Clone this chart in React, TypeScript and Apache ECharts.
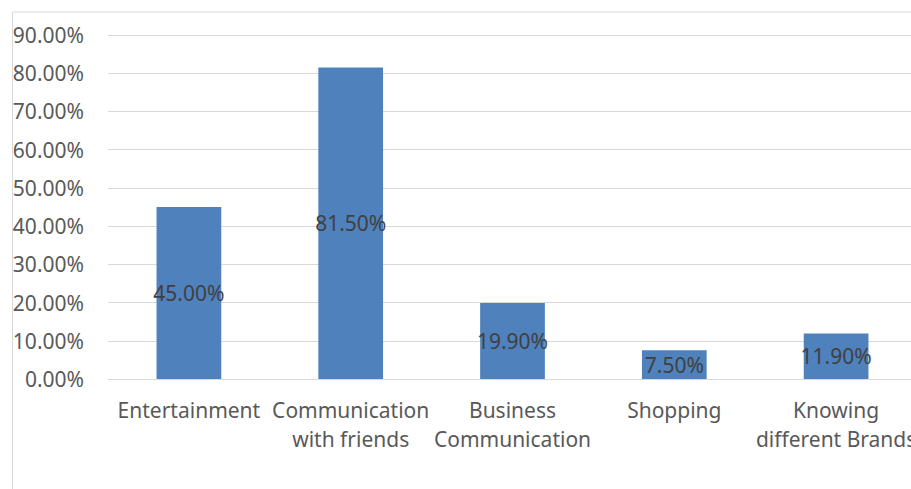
import React, { useEffect, useRef } from "react";
import * as echarts from "echarts";

const categories = [
  "Entertainment",
  "Communication\nwith friends",
  "Business\nCommunication",
  "Shopping",
  "Knowing\ndifferent Brands",
];
const values = [45.0, 81.5, 19.9, 7.5, 11.9];
const yMin = 0;
const yMax = 90;
const yInterval = 10;

const FONT = "'Noto Sans', sans-serif";

export default function App() {
  const ref = useRef<HTMLDivElement>(null);
  useEffect(() => {
    if (!ref.current) return;
    const chart = echarts.init(ref.current, undefined, { renderer: "svg" });
    chart.setOption({
      animation: false,
      backgroundColor: "#ffffff",
      textStyle: { fontFamily: FONT },
      graphic: [
        {
          type: "rect",
          left: 10,
          top: 9.5,
          shape: { x: 0, y: 0, width: 1000, height: 600 },
          style: { fill: "none", stroke: "#d9d9d9", lineWidth: 1 },
          silent: true,
        },
      ],
      grid: {
        left: 108,
        width: 809,
        top: 35,
        bottom: 110,
        containLabel: false,
        outerBoundsMode: "none",
      },
      xAxis: {
        type: "category",
        data: categories,
        axisLine: { show: true, lineStyle: { color: "#d9d9d9", width: 1 } },
        axisTick: { show: false },
        axisLabel: {
          color: "#595959",
          fontSize: 21,
          fontFamily: FONT,
          lineHeight: 29,
          margin: 16,
          interval: 0,
        },
      },
      yAxis: {
        type: "value",
        min: yMin,
        max: yMax,
        interval: yInterval,
        axisLine: { show: false },
        axisTick: { show: false },
        splitLine: { lineStyle: { color: "#d9d9d9", width: 1 } },
        axisLabel: {
          color: "#595959",
          fontSize: 21,
          fontFamily: FONT,
          margin: 24,
          formatter: (v: number) => v.toFixed(2) + "%",
        },
      },
      series: [
        {
          type: "bar",
          data: values,
          barCategoryGap: "60%",
          itemStyle: { color: "#4F81BD" },
          label: {
            show: true,
            position: "inside",
            color: "#404040",
            fontSize: 21,
            fontFamily: FONT,
            formatter: (p: any) => Number(p.value).toFixed(2) + "%",
          },
        },
      ],
    });
    return () => chart.dispose();
  }, []);
  return (
    <div
      ref={ref}
      style={{ position: "absolute", left: 0, top: 0, width: 911, height: 489 }}
    />
  );
}
